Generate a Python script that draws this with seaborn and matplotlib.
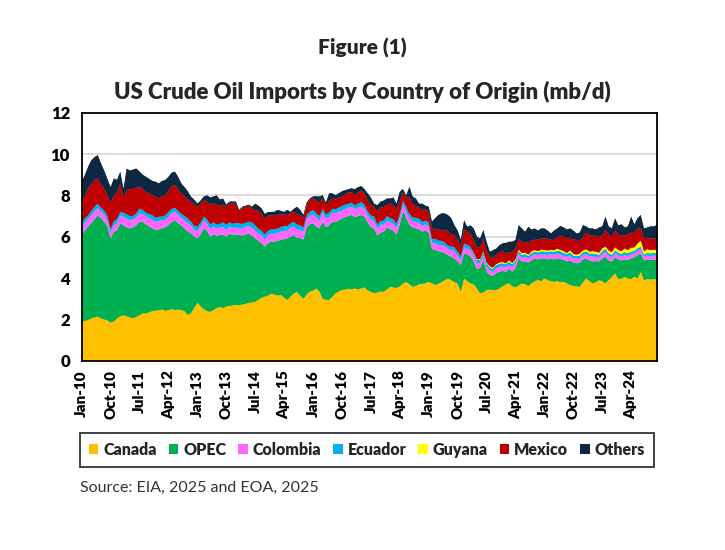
import numpy as np
import pandas as pd
import matplotlib
matplotlib.use("Agg")
import matplotlib.pyplot as plt
from matplotlib.patches import Patch
import seaborn as sns
import seaborn.objects as so

# ---------------------------------------------------------------------------
# Data (mb/d, monthly Jan-2010 .. Dec-2024)
# ---------------------------------------------------------------------------
MONTHS = pd.period_range("2010-01", "2024-12", freq="M")

canada = [
    1.89, 1.92, 1.97, 2.05, 2.10, 2.13, 2.05, 2.00, 1.95, 1.84, 1.90, 2.05,  # 2010
    2.15, 2.20, 2.15, 2.10, 2.05, 2.12, 2.20, 2.30, 2.28, 2.35, 2.40, 2.42,  # 2011
    2.45, 2.48, 2.42, 2.45, 2.50, 2.45, 2.48, 2.45, 2.40, 2.22, 2.30, 2.55,  # 2012
    2.80, 2.65, 2.50, 2.40, 2.37, 2.45, 2.55, 2.60, 2.55, 2.62, 2.65, 2.68,  # 2013
    2.70, 2.68, 2.72, 2.75, 2.80, 2.82, 2.85, 2.95, 3.05, 3.10, 3.15, 3.25,  # 2014
    3.20, 3.15, 3.18, 3.05, 2.94, 3.10, 3.25, 3.34, 3.15, 3.00, 3.20, 3.34,  # 2015
    3.40, 3.50, 3.35, 3.00, 2.95, 2.94, 3.10, 3.26, 3.35, 3.42, 3.45, 3.48,  # 2016
    3.45, 3.50, 3.45, 3.50, 3.55, 3.40, 3.34, 3.26, 3.30, 3.35, 3.34, 3.45,  # 2017
    3.58, 3.55, 3.52, 3.60, 3.74, 3.82, 3.70, 3.58, 3.62, 3.70, 3.72, 3.75,  # 2018
    3.82, 3.75, 3.66, 3.72, 3.80, 3.90, 3.98, 3.90, 3.80, 3.74, 3.34, 3.98,  # 2019
    3.85, 3.74, 3.70, 3.50, 3.26, 3.30, 3.42, 3.45, 3.42, 3.42, 3.50, 3.60,  # 2020
    3.70, 3.75, 3.60, 3.55, 3.65, 3.74, 3.70, 3.61, 3.75, 3.85, 3.90, 3.85,  # 2021
    3.98, 3.90, 3.85, 3.82, 3.85, 3.80, 3.82, 3.75, 3.66, 3.62, 3.60, 3.58,  # 2022
    3.80, 3.98, 3.85, 3.74, 3.80, 3.90, 3.85, 3.74, 3.90, 4.06, 4.23, 3.95,  # 2023
    3.98, 4.05, 3.98, 3.95, 4.06, 4.00, 4.30, 3.90, 3.94, 3.94, 3.94, 3.94,  # 2024
]

opec = [
    4.19, 4.38, 4.53, 4.60, 4.75, 4.92, 4.85, 4.73, 4.55, 4.08, 4.34, 4.25,
    4.50, 4.36, 4.30, 4.30, 4.40, 4.43, 4.53, 4.40, 4.32, 4.15, 4.00, 3.90,
    3.90, 3.92, 4.03, 4.11, 4.20, 4.35, 4.17, 4.10, 4.00, 4.03, 3.86, 3.45,
    3.12, 3.45, 3.90, 3.90, 3.63, 3.65, 3.50, 3.48, 3.55, 3.38, 3.50, 3.40,
    3.40, 3.40, 3.33, 3.35, 3.36, 3.23, 3.07, 2.85, 2.63, 2.42, 2.55, 2.51,
    2.56, 2.65, 2.66, 2.83, 2.98, 2.90, 2.83, 2.61, 2.80, 2.85, 3.25, 3.26,
    3.25, 3.00, 3.05, 3.73, 3.50, 3.61, 3.63, 3.44, 3.45, 3.47, 3.50, 3.52,
    3.60, 3.45, 3.55, 3.55, 3.42, 3.30, 3.11, 3.14, 2.75, 2.85, 2.90, 3.00,
    2.77, 2.75, 2.56, 3.00, 3.51, 3.08, 2.86, 2.87, 2.78, 2.65, 2.52, 2.55,
    2.38, 1.65, 1.69, 1.58, 1.47, 1.30, 1.13, 1.13, 1.15, 1.06, 1.29, 1.21,
    1.30, 1.31, 1.10, 0.92, 1.24, 1.57, 0.89, 0.70, 0.68, 0.83, 0.80, 0.75,
    0.60, 0.70, 0.71, 0.92, 1.30, 1.05, 1.10, 1.14, 1.10, 1.10, 1.00, 1.10,
    0.97, 1.00, 1.10, 1.08, 1.10, 1.12, 1.06, 1.05, 1.19, 1.13, 1.11, 1.17,
    1.10, 0.97, 1.00, 1.06, 1.02, 0.89, 1.10, 1.29, 0.95, 0.74, 0.77, 0.95,
    0.87, 0.85, 0.90, 1.00, 0.94, 1.10, 0.89, 0.95, 0.96, 0.94, 0.96, 0.93,
]

colombia = [
    0.35, 0.38, 0.35, 0.40, 0.38, 0.35, 0.33, 0.35, 0.30, 0.28, 0.32, 0.35,
    0.38, 0.40, 0.42, 0.40, 0.38, 0.40, 0.42, 0.40, 0.38, 0.40, 0.42, 0.40,
    0.42, 0.40, 0.38, 0.42, 0.45, 0.42, 0.40, 0.38, 0.40, 0.42, 0.38, 0.35,
    0.35, 0.38, 0.40, 0.35, 0.38, 0.40, 0.36, 0.35, 0.38, 0.35, 0.33, 0.35,
    0.35, 0.33, 0.35, 0.38, 0.35, 0.40, 0.38, 0.35, 0.40, 0.35, 0.38, 0.40,
    0.38, 0.40, 0.42, 0.40, 0.38, 0.45, 0.42, 0.40, 0.38, 0.40, 0.42, 0.40,
    0.45, 0.42, 0.40, 0.45, 0.42, 0.40, 0.42, 0.45, 0.40, 0.38, 0.40, 0.42,
    0.40, 0.38, 0.40, 0.42, 0.38, 0.35, 0.38, 0.36, 0.35, 0.38, 0.35, 0.33,
    0.35, 0.32, 0.35, 0.33, 0.30, 0.32, 0.35, 0.30, 0.32, 0.30, 0.28, 0.30,
    0.30, 0.32, 0.35, 0.30, 0.33, 0.35, 0.30, 0.32, 0.35, 0.30, 0.28, 0.30,
    0.28, 0.30, 0.25, 0.28, 0.25, 0.22, 0.25, 0.22, 0.20, 0.22, 0.25, 0.22,
    0.22, 0.20, 0.22, 0.25, 0.22, 0.20, 0.22, 0.20, 0.22, 0.20, 0.22, 0.20,
    0.20, 0.22, 0.20, 0.22, 0.25, 0.22, 0.20, 0.22, 0.25, 0.20, 0.22, 0.20,
    0.22, 0.20, 0.22, 0.25, 0.22, 0.20, 0.22, 0.25, 0.22, 0.20, 0.22, 0.20,
    0.20, 0.22, 0.20, 0.18, 0.20, 0.22, 0.20, 0.18, 0.20, 0.18, 0.20, 0.20,
]

ecuador = [
    0.20, 0.22, 0.18, 0.20, 0.22, 0.20, 0.18, 0.20, 0.22, 0.18, 0.20, 0.20,
    0.18, 0.20, 0.22, 0.20, 0.18, 0.20, 0.22, 0.20, 0.18, 0.20, 0.22, 0.20,
    0.20, 0.18, 0.20, 0.22, 0.20, 0.18, 0.20, 0.18, 0.20, 0.22, 0.20, 0.18,
    0.22, 0.20, 0.18, 0.20, 0.22, 0.20, 0.18, 0.20, 0.22, 0.24, 0.22, 0.20,
    0.22, 0.24, 0.22, 0.20, 0.22, 0.24, 0.26, 0.24, 0.22, 0.24, 0.22, 0.20,
    0.22, 0.20, 0.22, 0.24, 0.22, 0.20, 0.22, 0.24, 0.22, 0.20, 0.18, 0.20,
    0.20, 0.22, 0.20, 0.18, 0.20, 0.22, 0.20, 0.18, 0.20, 0.22, 0.20, 0.18,
    0.20, 0.18, 0.20, 0.22, 0.20, 0.18, 0.20, 0.22, 0.20, 0.18, 0.20, 0.22,
    0.20, 0.22, 0.20, 0.18, 0.20, 0.22, 0.20, 0.18, 0.20, 0.22, 0.20, 0.18,
    0.20, 0.18, 0.20, 0.22, 0.20, 0.18, 0.16, 0.18, 0.20, 0.18, 0.16, 0.18,
    0.18, 0.16, 0.15, 0.16, 0.14, 0.15, 0.16, 0.14, 0.15, 0.16, 0.14, 0.15,
    0.14, 0.15, 0.13, 0.14, 0.15, 0.13, 0.14, 0.12, 0.14, 0.13, 0.12, 0.14,
    0.14, 0.13, 0.15, 0.14, 0.13, 0.15, 0.14, 0.13, 0.15, 0.14, 0.13, 0.14,
    0.13, 0.14, 0.12, 0.13, 0.14, 0.12, 0.13, 0.14, 0.12, 0.13, 0.12, 0.13,
    0.12, 0.13, 0.12, 0.14, 0.12, 0.13, 0.12, 0.11, 0.12, 0.13, 0.12, 0.12,
]

guyana = [0.0] * 120 + [
    0.00, 0.00, 0.03, 0.04, 0.03, 0.05, 0.04, 0.06, 0.05, 0.04, 0.05, 0.06,  # 2020
    0.05, 0.06, 0.07, 0.05, 0.06, 0.08, 0.07, 0.06, 0.08, 0.07, 0.06, 0.08,  # 2021
    0.07, 0.08, 0.06, 0.08, 0.09, 0.07, 0.08, 0.06, 0.09, 0.08, 0.07, 0.09,  # 2022
    0.08, 0.10, 0.09, 0.12, 0.10, 0.11, 0.13, 0.10, 0.14, 0.12, 0.15, 0.12,  # 2023
    0.14, 0.18, 0.15, 0.20, 0.16, 0.22, 0.30, 0.15, 0.18, 0.16, 0.15, 0.17,  # 2024
]

mexico = [
    1.07, 1.10, 1.30, 1.30, 1.28, 1.25, 1.10, 1.05, 1.00, 1.25, 1.22, 1.30,
    1.35, 0.75, 1.16, 1.30, 1.30, 1.22, 1.05, 1.00, 1.00, 1.00, 0.98, 1.00,
    0.88, 0.97, 0.97, 1.00, 1.10, 1.10, 1.05, 0.99, 0.95, 0.91, 0.96, 1.05,
    0.96, 0.92, 0.77, 0.85, 0.95, 0.90, 0.96, 0.87, 0.85, 0.86, 0.90, 0.97,
    0.93, 0.60, 0.78, 0.77, 0.77, 0.66, 0.74, 0.86, 0.80, 0.78, 0.70, 0.69,
    0.65, 0.68, 0.60, 0.55, 0.53, 0.50, 0.48, 0.50, 0.50, 0.48, 0.50, 0.60,
    0.55, 0.62, 0.65, 0.50, 0.45, 0.55, 0.50, 0.48, 0.50, 0.45, 0.50, 0.55,
    0.50, 0.50, 0.55, 0.57, 0.55, 0.54, 0.50, 0.48, 0.62, 0.65, 0.65, 0.58,
    0.70, 0.66, 0.72, 0.60, 0.40, 0.45, 0.80, 0.65, 0.58, 0.55, 0.58, 0.55,
    0.50, 0.50, 0.45, 0.53, 0.50, 0.60, 0.70, 0.57, 0.58, 0.60, 0.45, 0.70,
    0.65, 0.60, 0.60, 0.60, 0.55, 0.65, 0.55, 0.50, 0.45, 0.45, 0.50, 0.55,
    0.45, 0.40, 0.52, 0.52, 0.50, 0.55, 0.50, 0.57, 0.52, 0.50, 0.55, 0.55,
    0.56, 0.57, 0.50, 0.50, 0.55, 0.70, 0.68, 0.70, 0.60, 0.70, 0.70, 0.60,
    0.67, 0.80, 0.80, 0.75, 0.75, 0.78, 0.62, 0.80, 0.80, 0.75, 0.80, 0.75,
    0.75, 0.62, 0.78, 0.72, 0.70, 0.72, 0.60, 0.62, 0.55, 0.57, 0.55, 0.56,
]

others = [
    0.96, 1.00, 1.06, 1.15, 1.12, 1.10, 1.04, 0.87, 0.78, 0.77, 0.84, 0.60,
    0.59, 0.40, 1.05, 0.90, 0.94, 0.93, 0.73, 0.70, 0.74, 0.70, 0.68, 0.74,
    0.73, 0.75, 0.74, 0.70, 0.65, 0.65, 0.60, 0.48, 0.45, 0.40, 0.24, 0.22,
    0.15, 0.15, 0.20, 0.30, 0.35, 0.35, 0.45, 0.30, 0.30, 0.10, 0.10, 0.10,
    0.10, 0.05, 0.05, 0.05, 0.05, 0.10, 0.30, 0.25, 0.27, 0.21, 0.20, 0.15,
    0.20, 0.22, 0.17, 0.13, 0.25, 0.05, 0.15, 0.36, 0.25, 0.12, 0.10, 0.05,
    0.10, 0.20, 0.30, 0.15, 0.13, 0.38, 0.25, 0.20, 0.20, 0.26, 0.20, 0.15,
    0.19, 0.29, 0.25, 0.19, 0.20, 0.33, 0.37, 0.14, 0.31, 0.29, 0.31, 0.27,
    0.25, 0.40, 0.25, 0.47, 0.15, 0.11, 0.51, 0.36, 0.35, 0.18, 0.30, 0.17,
    0.25, 0.33, 0.55, 0.70, 0.83, 0.80, 0.78, 0.80, 0.48, 0.42, 0.32, 0.43,
    0.22, 0.44, 0.57, 0.50, 0.45, 0.38, 0.45, 0.20, 0.40, 0.30, 0.35, 0.35,
    0.54, 0.50, 0.51, 0.41, 0.68, 0.65, 0.51, 0.78, 0.54, 0.55, 0.45, 0.48,
    0.48, 0.40, 0.30, 0.46, 0.43, 0.46, 0.47, 0.44, 0.46, 0.43, 0.33, 0.42,
    0.56, 0.31, 0.32, 0.35, 0.32, 0.45, 0.45, 0.65, 0.37, 0.40, 0.60, 0.45,
    0.54, 0.40, 0.37, 0.78, 0.42, 0.51, 0.64, 0.49, 0.50, 0.58, 0.58, 0.64,
]

SERIES = ["Canada", "OPEC", "Colombia", "Ecuador", "Guyana", "Mexico", "Others"]
VALUES = [canada, opec, colombia, ecuador, guyana, mexico, others]
COLORS = {
    "Canada":   "#FFC000",
    "OPEC":     "#00B050",
    "Colombia": "#FF66FF",
    "Ecuador":  "#00B0F0",
    "Guyana":   "#FFFF00",
    "Mexico":   "#C00000",
    "Others":   "#0E2841",
}
TICK_LABELS = [
    "Jan-10", "Oct-10", "Jul-11", "Apr-12", "Jan-13", "Oct-13", "Jul-14",
    "Apr-15", "Jan-16", "Oct-16", "Jul-17", "Apr-18", "Jan-19", "Oct-19",
    "Jul-20", "Apr-21", "Jan-22", "Oct-22", "Jul-23", "Apr-24",
]

# long format, stacked bottom-up in SERIES order
month_idx = np.arange(len(MONTHS))
long_df = pd.concat(
    [pd.DataFrame({"month": month_idx, "value": vals, "series": name})
     for name, vals in zip(SERIES, VALUES)],
    ignore_index=True,
)

# ---------------------------------------------------------------------------
# Figure
# ---------------------------------------------------------------------------
sns.set_style("white")
plt.rcParams["font.family"] = ["Lato", "DejaVu Sans"]
HEAVY = "heavy"

fig = plt.figure(figsize=(7.25, 5.5), dpi=100)
fig.patch.set_facecolor("white")
ax = fig.add_axes([0.1127, 0.3442, 0.7933, 0.4509])

(
    so.Plot(long_df, x="month", y="value", color="series")
    .add(so.Area(alpha=1, edgewidth=0.4, edgealpha=1), so.Stack(), legend=False)
    .scale(color=so.Nominal(COLORS, order=SERIES))
    .label(x="", y="")
    .on(ax)
    .plot()
)

ax.set_facecolor("white")
ax.set_xlim(0, len(MONTHS) - 1)
ax.set_ylim(0, 12)
ax.set_yticks(range(0, 13, 2))
ax.set_yticklabels([str(v) for v in range(0, 13, 2)], fontsize=12, fontweight=HEAVY)
ax.set_xticks(month_idx[::9])
ax.set_xticklabels(TICK_LABELS, rotation=90, fontsize=11, fontweight=HEAVY)
ax.tick_params(axis="both", direction="out", length=5, width=1.2, color="black",
               labelcolor="black")
ax.tick_params(axis="x", pad=2)
ax.yaxis.grid(True, color="#D9D9D9", linewidth=1.3)
ax.xaxis.grid(False)
ax.set_axisbelow(True)
for spine in ax.spines.values():
    spine.set_visible(True)
    spine.set_edgecolor("black")
    spine.set_linewidth(1.3)

fig.text(0.5, 0.912, "Figure (1)", ha="center", va="center",
         fontsize=15, fontweight=HEAVY)
fig.text(0.5, 0.832, "US Crude Oil Imports by Country of Origin (mb/d)",
         ha="center", va="center", fontsize=16, fontweight=HEAVY)

handles = [Patch(facecolor=COLORS[s], edgecolor="none", label=s) for s in SERIES]
leg = fig.legend(handles=handles, loc="center", bbox_to_anchor=(0.506, 0.182),
                 ncol=len(SERIES), frameon=True, fancybox=False,
                 handlelength=0.6, handleheight=0.6, handletextpad=0.3,
                 columnspacing=0.75, borderpad=0.55,
                 prop={"weight": HEAVY, "size": 11.5})
leg.get_frame().set_edgecolor("black")
leg.get_frame().set_linewidth(1.3)

fig.text(0.11, 0.113, "Source: EIA, 2025 and EOA, 2025", ha="left", va="center",
         fontsize=11.5, color="#333333")

fig.savefig("out.png", dpi=100, facecolor="white")
